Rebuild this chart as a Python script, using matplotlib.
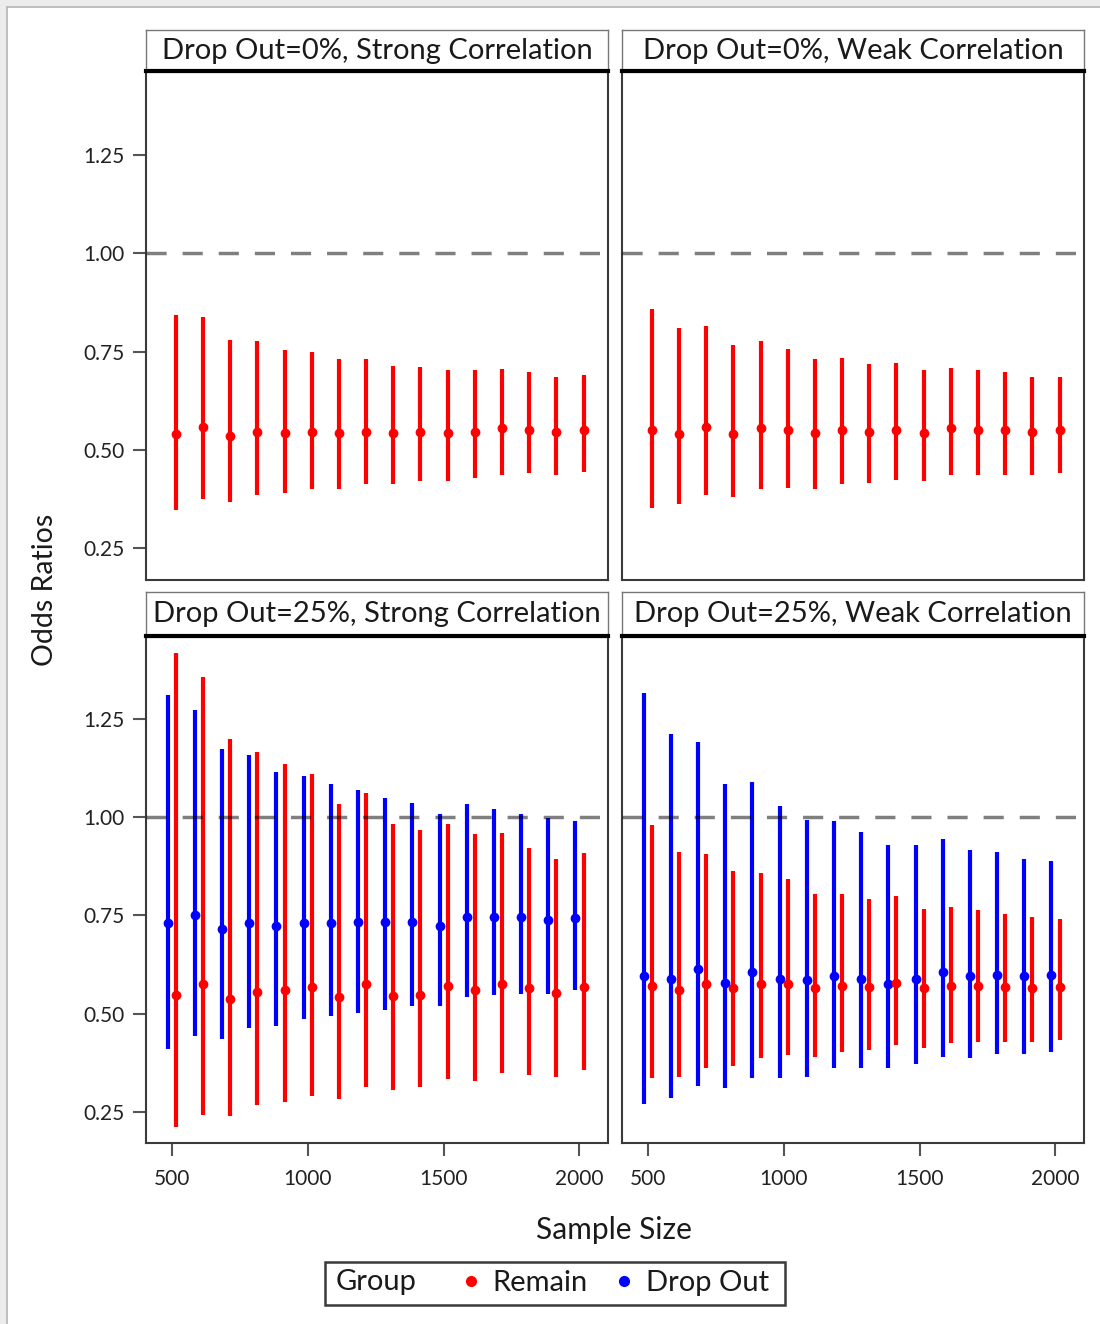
import matplotlib
matplotlib.use("Agg")
import matplotlib.pyplot as plt
from matplotlib.lines import Line2D
from matplotlib.patches import Rectangle

plt.rcParams['font.family'] = ['Lato', 'DejaVu Sans']

# ---------------- data ----------------
sample_sizes = [500, 600, 700, 800, 900, 1000, 1100, 1200, 1300, 1400,
                1500, 1600, 1700, 1800, 1900, 2000]

panel_titles = ["Drop Out=0%, Strong Correlation", "Drop Out=0%, Weak Correlation",
                "Drop Out=25%, Strong Correlation", "Drop Out=25%, Weak Correlation"]

# Drop Out=0%, Strong Correlation (Remain only)
p1_rem_mid = [0.541, 0.559, 0.536, 0.547, 0.544, 0.547, 0.544, 0.547, 0.544, 0.547, 0.544, 0.547, 0.556, 0.551, 0.547, 0.552]
p1_rem_lo = [0.348, 0.375, 0.367, 0.386, 0.390, 0.400, 0.401, 0.414, 0.414, 0.421, 0.421, 0.428, 0.437, 0.441, 0.437, 0.444]
p1_rem_hi = [0.843, 0.838, 0.779, 0.777, 0.754, 0.750, 0.731, 0.731, 0.714, 0.710, 0.703, 0.703, 0.707, 0.699, 0.686, 0.691]

# Drop Out=0%, Weak Correlation (Remain only)
p2_rem_mid = [0.552, 0.540, 0.559, 0.540, 0.557, 0.551, 0.544, 0.551, 0.547, 0.551, 0.544, 0.556, 0.552, 0.551, 0.547, 0.552]
p2_rem_lo = [0.354, 0.362, 0.386, 0.381, 0.401, 0.404, 0.401, 0.414, 0.417, 0.424, 0.421, 0.436, 0.436, 0.436, 0.436, 0.441]
p2_rem_hi = [0.857, 0.811, 0.815, 0.767, 0.777, 0.756, 0.730, 0.733, 0.718, 0.722, 0.703, 0.709, 0.703, 0.698, 0.686, 0.686]

# Drop Out=25%, Strong Correlation
p3_rem_mid = [0.547, 0.575, 0.537, 0.555, 0.561, 0.568, 0.541, 0.575, 0.544, 0.547, 0.571, 0.561, 0.575, 0.564, 0.552, 0.568]
p3_rem_lo = [0.211, 0.241, 0.238, 0.267, 0.275, 0.289, 0.282, 0.313, 0.305, 0.313, 0.332, 0.327, 0.349, 0.343, 0.339, 0.355]
p3_rem_hi = [1.420, 1.358, 1.201, 1.166, 1.136, 1.112, 1.033, 1.062, 0.982, 0.969, 0.982, 0.957, 0.960, 0.923, 0.893, 0.910]
p3_drop_mid = [0.730, 0.751, 0.715, 0.730, 0.722, 0.730, 0.730, 0.734, 0.734, 0.734, 0.723, 0.747, 0.747, 0.747, 0.739, 0.743]
p3_drop_lo = [0.409, 0.442, 0.436, 0.464, 0.468, 0.487, 0.495, 0.502, 0.510, 0.519, 0.519, 0.542, 0.547, 0.549, 0.549, 0.559]
p3_drop_hi = [1.311, 1.274, 1.174, 1.159, 1.117, 1.105, 1.085, 1.069, 1.050, 1.038, 1.009, 1.033, 1.021, 1.009, 0.998, 0.991]

# Drop Out=25%, Weak Correlation
p4_rem_mid = [0.571, 0.560, 0.575, 0.564, 0.575, 0.575, 0.564, 0.571, 0.568, 0.578, 0.564, 0.571, 0.571, 0.568, 0.564, 0.568]
p4_rem_lo = [0.335, 0.339, 0.362, 0.366, 0.386, 0.394, 0.390, 0.402, 0.406, 0.421, 0.413, 0.425, 0.428, 0.428, 0.428, 0.432]
p4_rem_hi = [0.980, 0.912, 0.906, 0.863, 0.859, 0.843, 0.806, 0.806, 0.792, 0.800, 0.767, 0.772, 0.764, 0.753, 0.745, 0.740]
p4_drop_mid = [0.595, 0.588, 0.614, 0.579, 0.607, 0.588, 0.585, 0.595, 0.588, 0.575, 0.588, 0.607, 0.595, 0.599, 0.595, 0.599]
p4_drop_lo = [0.269, 0.284, 0.316, 0.309, 0.335, 0.335, 0.339, 0.360, 0.360, 0.360, 0.372, 0.390, 0.386, 0.396, 0.396, 0.402]
p4_drop_hi = [1.316, 1.212, 1.193, 1.084, 1.091, 1.030, 0.994, 0.991, 0.963, 0.929, 0.929, 0.945, 0.916, 0.912, 0.893, 0.889]

y_ticks = [0.25, 0.50, 0.75, 1.00, 1.25]
x_ticks = [500, 1000, 1500, 2000]

groups = ["Remain", "Drop Out"]
colors = {"Remain": "#ff0000", "Drop Out": "#0000ff"}
dodge = {"Remain": 15, "Drop Out": -15}

panels = [
    {"Remain": (p1_rem_mid, p1_rem_lo, p1_rem_hi)},
    {"Remain": (p2_rem_mid, p2_rem_lo, p2_rem_hi)},
    {"Drop Out": (p3_drop_mid, p3_drop_lo, p3_drop_hi), "Remain": (p3_rem_mid, p3_rem_lo, p3_rem_hi)},
    {"Drop Out": (p4_drop_mid, p4_drop_lo, p4_drop_hi), "Remain": (p4_rem_mid, p4_rem_lo, p4_rem_hi)},
]

# ---------------- figure ----------------
W, H = 1100, 1324
fig = plt.figure(figsize=(W / 100, H / 100), dpi=100)
fig.patch.set_facecolor("#ececec")
fig.patches.append(Rectangle((7 / W, -0.01), 1.0, 1 - 7 / H + 0.01, transform=fig.transFigure,
                             facecolor="white", edgecolor="#b4b4b4", linewidth=1.2, zorder=-10))

def fx(px):
    return px / W

def fy(py):
    return 1 - py / H

lefts = [146, 622, 146, 622]
rights = [608, 1084, 608, 1084]
ax_tops = [72, 72, 637, 637]
ax_bots = [580, 580, 1143, 1143]
hdr_tops = [30, 30, 592, 592]

TXT = "#1a1a1a"
spine_col = "#3a3a3a"
for i, data in enumerate(panels):
    l, r = lefts[i], rights[i]
    ax = fig.add_axes([fx(l), fy(ax_bots[i]), fx(r - l), (ax_bots[i] - ax_tops[i]) / H])
    for g in ["Drop Out", "Remain"]:
        if g not in data:
            continue
        mid, lo, hi = data[g]
        xs = [s + dodge[g] for s in sample_sizes]
        ax.vlines(xs, lo, hi, color=colors[g], linewidth=3.0, zorder=3)
        ax.plot(xs, mid, "o", color=colors[g], markersize=6, zorder=4)
    ax.axhline(1.0, color="black", alpha=0.5, linewidth=2.5, linestyle=(0, (5.8, 4.6)), zorder=5)
    ax.set_xlim(405, 2105)
    ax.set_ylim(0.17, 1.46)
    ax.set_yticks(y_ticks)
    ax.set_xticks(x_ticks)
    for s in ax.spines.values():
        s.set_color(spine_col)
        s.set_linewidth(1.5)
    ax.tick_params(axis="both", colors="#555555", width=1.5, labelcolor="#222222", labelsize=15)
    ax.tick_params(axis="y", length=9.5, pad=6)
    ax.tick_params(axis="x", length=9.5, pad=9)
    if i % 2 == 0:
        ax.set_yticklabels([f"{v:.2f}" for v in y_ticks])
    else:
        ax.tick_params(axis="y", left=False, labelleft=False)
    if i < 2:
        ax.tick_params(axis="x", bottom=False, labelbottom=False)
    else:
        ax.set_xticklabels([str(v) for v in x_ticks])

    # header strip
    hax = fig.add_axes([fx(l), fy(ax_tops[i] - 1), fx(r - l), (ax_tops[i] - 1 - hdr_tops[i]) / H])
    hax.set_xticks([])
    hax.set_yticks([])
    for name, s in hax.spines.items():
        s.set_color("#777777")
        s.set_linewidth(1.0)
    hax.spines["bottom"].set_color("black")
    hax.spines["bottom"].set_linewidth(3.0)
    hax.text(0.5, 0.5, panel_titles[i], ha="center", va="center", fontsize=21,
             color=TXT, transform=hax.transAxes)

# axis labels
fig.text(fx(45), fy(590), "Odds Ratios", rotation=90, ha="center", va="center",
         fontsize=20.5, color=TXT)
fig.text(fx(614), fy(1230), "Sample Size", ha="center", va="center",
         fontsize=21.5, color=TXT)

# legend
fig.patches.append(Rectangle((fx(325), fy(1305)), fx(785 - 325), (1305 - 1262) / H,
                             transform=fig.transFigure, facecolor="white",
                             edgecolor="#3a3a3a", linewidth=1.8, zorder=-5))
fig.text(fx(336), fy(1282), "Group", ha="left", va="center", fontsize=21, color=TXT)
handles = [Line2D([], [], linestyle="none", marker="o", markersize=7, color=colors[g]) for g in groups]
fig.legend(handles, groups, loc="center left", bbox_to_anchor=(fx(462), fy(1283)),
           ncol=2, frameon=False, fontsize=21, handlelength=0.6, handletextpad=0.45,
           columnspacing=0.95, borderpad=0, borderaxespad=0, labelcolor=TXT)

fig.savefig("out.png", dpi=100)
